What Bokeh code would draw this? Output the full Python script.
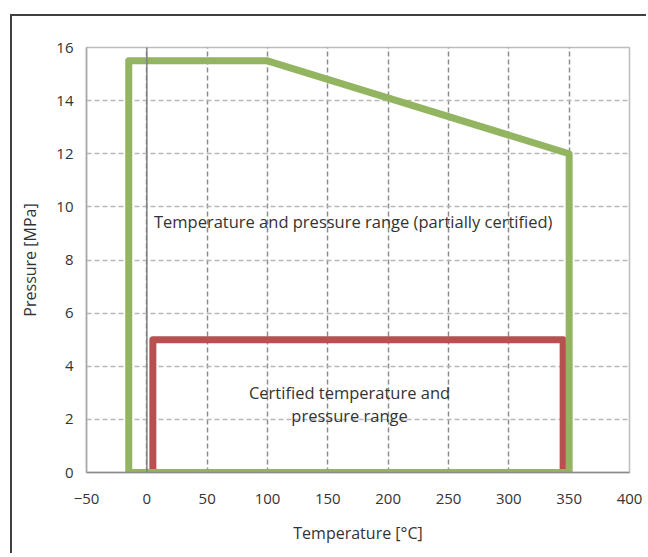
from bokeh.plotting import figure
from bokeh.models import Span, FixedTicker
from bokeh.core.properties import value
from bokeh.embed import file_html
from bokeh.resources import INLINE

# ---- data ----
x_ticks = [-50, 0, 50, 100, 150, 200, 250, 300, 350, 400]
y_ticks = [0, 2, 4, 6, 8, 10, 12, 14, 16]

partial_temp = [-15, -15, 100, 350, 350]
partial_pres = [0, 15.5, 15.5, 12, 0]

certified_temp = [5, 5, 345, 345]
certified_pres = [0, 5, 5, 0]

label_partial = "Temperature and pressure range (partially certified)"
label_certified = ["Certified temperature and", "pressure range"]

x_title = "Temperature [°C]"
y_title = "Pressure [MPa]"

FONT = "Open Sans"
TXT = "#333333"

p = figure(width=636, height=539, x_range=(-50, 400), y_range=(0, 16),
           output_backend="svg", toolbar_location=None,
           min_border_left=74, min_border_right=19,
           min_border_top=31, min_border_bottom=83)
p.margin = (14, 0, 0, 10)
p.styles = {"border-top": "2px solid #404040", "border-left": "2px solid #404040"}

p.background_fill_color = "white"
p.border_fill_color = "white"
p.outline_line_color = "#bdbdbd"
p.outline_line_width = 1.5

# grids
p.xgrid.ticker = FixedTicker(ticks=x_ticks)
p.ygrid.ticker = FixedTicker(ticks=y_ticks)
p.xgrid.grid_line_color = "#8c8c8c"
p.xgrid.grid_line_dash = "5 3"
p.xgrid.grid_line_width = 1.5
p.ygrid.grid_line_color = "#b8b8b8"
p.ygrid.grid_line_dash = "5 3"
p.ygrid.grid_line_width = 1.5

# axes
for ax in (p.xaxis[0], p.yaxis[0]):
    ax.major_tick_line_color = None
    ax.minor_tick_line_color = None
    ax.major_tick_out = 0
    ax.major_tick_in = 0
    ax.major_label_text_font = FONT
    ax.major_label_text_font_size = "15px"
    ax.major_label_text_color = TXT
    ax.axis_label_text_font = FONT
    ax.axis_label_text_font_size = "16px"
    ax.axis_label_text_font_style = "normal"
    ax.axis_label_text_color = TXT

p.xaxis.ticker = FixedTicker(ticks=x_ticks)
p.yaxis.ticker = FixedTicker(ticks=y_ticks)
p.xaxis.major_label_overrides = {t: (str(t).replace("-", "\u2212")) for t in x_ticks}
p.xaxis.axis_line_color = "#8a8a8a"
p.xaxis.axis_line_width = 1.5
p.yaxis.axis_line_color = "#a8a8a8"
p.yaxis.axis_line_width = 1.5
p.xaxis.major_label_standoff = 21
p.yaxis.major_label_standoff = 13
p.xaxis.axis_label = x_title
p.yaxis.axis_label = y_title
p.xaxis.axis_label_standoff = 15
p.yaxis.axis_label_standoff = 12

# zero line
p.add_layout(Span(location=0, dimension="height", line_color="#808080", line_width=1.5))

# regions
p.patch(certified_temp, certified_pres, fill_color=None, line_color="#b85052",
        line_width=7, line_join="round")
p.patch(partial_temp, partial_pres, fill_color=None, line_color="#93b461",
        line_width=7, line_join="round")

# labels
p.text(x=[171], y=[9.45], text=[label_partial], text_align="center",
       text_baseline="middle", text_font=value(FONT), text_font_size="16.5px",
       text_color=TXT)
p.text(x=[168, 168], y=[3.0, 2.13], text=label_certified, text_align="center",
       text_baseline="middle", text_font=value(FONT), text_font_size="16.5px",
       text_color=TXT)

open("out.html", "w").write(file_html(p, INLINE))
